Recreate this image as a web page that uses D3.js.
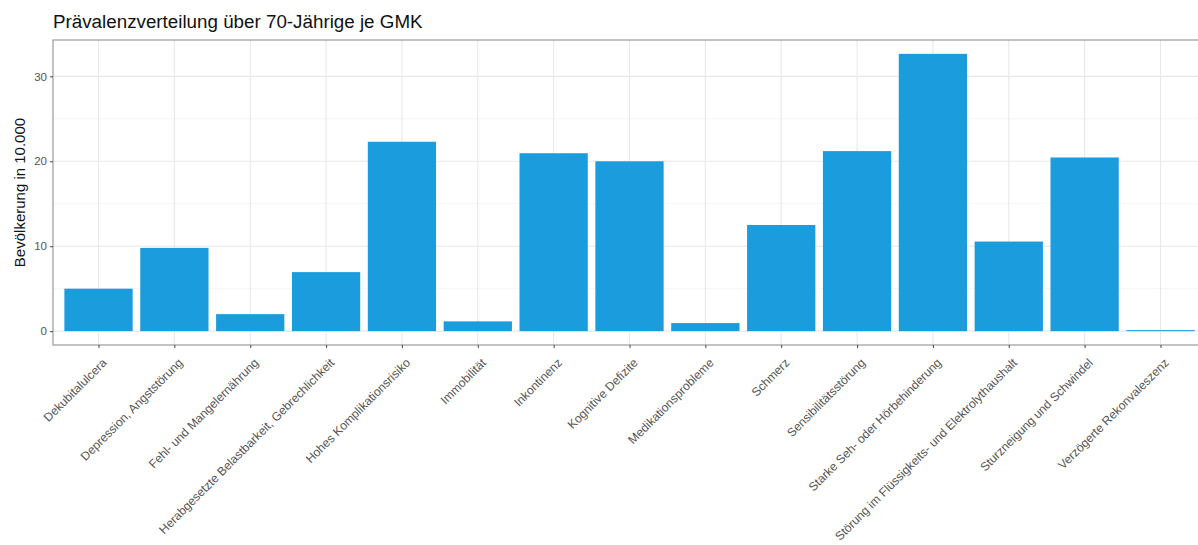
<!DOCTYPE html>
<html>
<head>
<meta charset="utf-8">
<script src="https://cdn.jsdelivr.net/npm/d3@7"></script>
<style>
  html, body { margin: 0; padding: 0; background: #fff; }
  svg { display: block; font-family: "Liberation Sans", Arial, sans-serif; }
</style>
</head>
<body>
<svg id="chart" width="1198" height="545"></svg>
<script>
// Prävalenz je geriatrischem Merkmalskomplex (GMK), Bevölkerung in 10.000
const categories = [
  "Dekubitalulcera",
  "Depression, Angststörung",
  "Fehl- und Mangelernährung",
  "Herabgesetzte Belastbarkeit, Gebrechlichkeit",
  "Hohes Komplikationsrisiko",
  "Immobilität",
  "Inkontinenz",
  "Kognitive Defizite",
  "Medikationsprobleme",
  "Schmerz",
  "Sensibilitätsstörung",
  "Starke Seh- oder Hörbehinderung",
  "Störung im Flüssigkeits- und Elektrolythaushalt",
  "Sturzneigung und Schwindel",
  "Verzögerte Rekonvaleszenz"
];
const values = [5.0, 9.8, 2.0, 6.95, 22.3, 1.15, 20.95, 20.0, 0.95, 12.5, 21.2, 32.65, 10.55, 20.45, 0.12];
const yTicks = [0, 10, 20, 30];
const yMinor = [5, 15, 25];

const title = "Prävalenzverteilung über 70-Jährige je GMK";
const yLabel = "Bevölkerung in 10.000";

const svg = d3.select("#chart");
const panel = { left: 53, top: 40, right: 1206, bottom: 345 };

// Continuous axis with 5 % expansion on both ends
const yMax = d3.max(values);
const pad = yMax * 0.05;
const y = d3.scaleLinear()
  .domain([-pad, yMax + pad])
  .range([panel.bottom, panel.top]);

// Discrete axis with 0.6 units of expansion on each side
const n = categories.length;
const unit = (panel.right - panel.left) / (n - 1 + 1.2);
const x = d3.scalePoint()
  .domain(categories)
  .range([panel.left + 0.6 * unit, panel.right - 0.6 * unit]);
const barW = 0.9 * unit;

const g = svg.append("g");

// panel background
g.append("rect")
  .attr("x", panel.left).attr("y", panel.top)
  .attr("width", panel.right - panel.left)
  .attr("height", panel.bottom - panel.top)
  .attr("fill", "#fff");

// minor grid
g.selectAll("line.ymin").data(yMinor).join("line")
  .attr("x1", panel.left).attr("x2", panel.right)
  .attr("y1", d => y(d)).attr("y2", d => y(d))
  .attr("stroke", "#f2f2f2").attr("stroke-width", 0.8);

// major grid
g.selectAll("line.ymaj").data(yTicks).join("line")
  .attr("x1", panel.left).attr("x2", panel.right)
  .attr("y1", d => y(d)).attr("y2", d => y(d))
  .attr("stroke", "#e8e8e8").attr("stroke-width", 1.1);
g.selectAll("line.xmaj").data(categories).join("line")
  .attr("x1", d => x(d)).attr("x2", d => x(d))
  .attr("y1", panel.top).attr("y2", panel.bottom)
  .attr("stroke", "#e8e8e8").attr("stroke-width", 1.1);

// bars
g.selectAll("rect.bar").data(values).join("rect")
  .attr("class", "bar")
  .attr("x", (d, i) => x(categories[i]) - barW / 2)
  .attr("width", barW)
  .attr("y", d => y(d))
  .attr("height", d => y(0) - y(d))
  .attr("fill", "#1b9ddd");

// panel border
g.append("rect")
  .attr("x", panel.left).attr("y", panel.top)
  .attr("width", panel.right - panel.left)
  .attr("height", panel.bottom - panel.top)
  .attr("fill", "none")
  .attr("stroke", "#9a9a9a").attr("stroke-width", 1.2);

// y axis
const yAxis = d3.axisLeft(y).tickValues(yTicks).tickSize(3).tickPadding(3);
const ya = svg.append("g")
  .attr("transform", `translate(${panel.left},0)`)
  .call(yAxis);
ya.select(".domain").remove();
ya.selectAll(".tick line").attr("stroke", "#444");
ya.selectAll(".tick text")
  .attr("fill", "#555").style("font-size", "11.5px");

// x axis
const xAxis = d3.axisBottom(x).tickSize(3).tickPadding(2);
const xa = svg.append("g")
  .attr("transform", `translate(0,${panel.bottom})`)
  .call(xAxis);
xa.select(".domain").remove();
xa.selectAll(".tick line").attr("stroke", "#444");
xa.selectAll(".tick text")
  .attr("fill", "#555").style("font-size", "12.1px")
  .attr("text-anchor", "end")
  .attr("dx", 0).attr("dy", 0)
  .attr("transform", "translate(5,15) rotate(-45)");

// title
svg.append("text")
  .attr("x", panel.left).attr("y", 28)
  .attr("fill", "#111")
  .style("font-size", "18.8px")
  .text(title);

// y axis title
svg.append("text")
  .attr("transform", `translate(25,${(panel.top + panel.bottom) / 2}) rotate(-90)`)
  .attr("text-anchor", "middle")
  .attr("fill", "#111")
  .style("font-size", "15px")
  .text(yLabel);
</script>
</body>
</html>
